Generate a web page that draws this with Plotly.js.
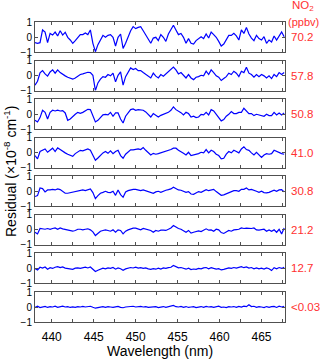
<!DOCTYPE html>
<html>
<head>
<meta charset="utf-8">
<script src="https://cdn.plot.ly/plotly-3.0.1.min.js"></script>
<style>
  html, body { margin: 0; padding: 0; background: #fff; }
  #chart { width: 320px; height: 360px; }
</style>
</head>
<body>
<div id="chart"></div>
<script>
// Residual spectra, one panel per NO2 concentration

const wavelength = [
  438.0,438.3,438.6,438.9,439.2,439.5,439.8,440.1,440.4,440.7,
  441.0,441.3,441.6,441.9,442.2,442.5,442.8,443.1,443.4,443.7,
  444.0,444.3,444.6,444.9,445.2,445.5,445.8,446.1,446.4,446.7,
  447.0,447.3,447.6,447.9,448.2,448.5,448.8,449.1,449.4,449.7,
  450.0,450.3,450.6,450.9,451.2,451.5,451.8,452.1,452.4,452.7,
  453.0,453.3,453.6,453.9,454.2,454.5,454.8,455.1,455.4,455.7,
  456.0,456.3,456.6,456.9,457.2,457.5,457.8,458.1,458.4,458.7,
  459.0,459.3,459.6,459.9,460.2,460.5,460.8,461.1,461.4,461.7,
  462.0,462.3,462.6,462.9,463.2,463.5,463.8,464.1,464.4,464.7,
  465.0,465.3,465.6,465.9,466.2,466.5,466.8,467.1,467.4,467.7
];

const res702 = [
  -0.38,-0.42,-0.38,0.47,0.33,-0.38,0.24,0.13,0.33,0.07,
  0.42,0.13,0.31,-0.02,-0.2,-0.42,-0.24,-0.07,0.16,0.16,
  0.27,0.16,0.47,-0.42,-0.98,-0.51,-0.16,0.11,-0.02,0.11,
  0.16,-0.02,-0.6,-0.02,0.2,-0.76,-0.42,0.02,0.42,0.69,
  0.56,0.64,0.69,0.42,0.16,-0.16,-0.42,-0.07,-0.02,-0.24,
  0.16,-0.02,-0.29,0.2,0.47,0.78,0.47,0.16,0.24,-0.02,
  -0.42,-0.11,-0.42,-0.47,-0.24,-0.11,0.02,-0.11,0.2,-0.07,
  0.33,0.16,-0.02,-0.29,-0.6,-0.47,-0.16,0.11,0.11,0.24,
  0.07,-0.2,0.47,0.24,0.64,0.2,-0.07,-0.24,0.11,-0.11,
  -0.2,0.02,-0.42,-0.2,-0.33,0.07,-0.2,0.11,0.33,0.02
];

const res578 = [
  -0.64,-0.38,0.18,0.33,0.11,-0.04,0.24,0.38,0.16,0.38,
  0.2,0.07,-0.02,-0.11,-0.2,-0.24,-0.16,-0.02,0.07,0.11,
  0.18,0.22,0.2,0.02,-1.0,-0.49,-0.24,-0.07,-0.11,0.07,
  -0.02,0.16,-0.42,0.02,0.24,-0.64,-0.07,0.18,0.51,0.4,
  0.47,0.33,0.33,0.2,0.07,-0.07,-0.16,0.16,-0.04,-0.16,
  0.07,-0.04,0.11,0.24,0.38,0.56,0.38,0.11,0.2,-0.02,
  -0.16,0.07,-0.16,-0.27,-0.11,-0.07,0.02,-0.02,0.29,0.07,
  0.38,0.2,-0.02,-0.11,-0.33,-0.2,-0.07,0.16,0.07,0.29,
  0.16,-0.07,0.29,0.2,0.56,0.16,0.07,-0.11,0.07,-0.07,
  0.07,-0.02,-0.16,-0.02,-0.2,0.07,-0.07,0.2,0.07,0.2
];

const res508 = [
  -0.41,-0.52,-0.23,0.26,0.12,-0.32,0.12,0.26,0.21,0.26,
  0.21,0.24,0.08,-0.41,-0.32,-0.14,-0.01,0.12,0.06,0.12,
  0.21,0.32,0.3,-0.08,-0.52,-0.41,-0.19,-0.05,-0.01,-0.05,
  0.12,-0.14,0.08,0.08,-0.32,-0.59,-0.14,0.08,0.3,0.35,
  0.26,0.3,0.26,0.26,0.15,-0.01,-0.19,0.04,-0.1,-0.19,
  -0.08,-0.03,0.04,0.12,0.26,0.48,0.3,0.21,0.1,-0.05,
  0.12,0.04,-0.19,-0.14,-0.23,-0.19,-0.01,-0.05,0.12,-0.05,
  0.3,0.21,-0.01,-0.19,-0.45,-0.36,-0.14,-0.01,0.17,0.04,
  0.04,0.12,0.12,0.39,0.21,0.04,0.04,-0.1,-0.01,-0.05,
  -0.1,-0.14,-0.01,-0.1,-0.1,0.12,-0.05,0.08,-0.05,0.08
];

const res410 = [
  -0.19,-0.41,0.08,0.14,0.25,0.03,0.16,0.3,0.08,0.32,
  0.21,0.08,-0.01,-0.1,-0.19,-0.24,-0.06,0.03,0.16,0.12,
  0.16,0.25,0.16,-0.19,-0.5,-0.35,-0.15,-0.01,0.08,-0.04,
  0.12,-0.06,0.08,0.16,-0.19,-0.37,-0.1,0.08,0.19,0.19,
  0.21,0.25,0.21,0.34,0.16,0.03,-0.15,-0.04,-0.1,-0.06,
  -0.01,0.03,0.08,0.12,0.21,0.3,0.3,0.16,0.08,-0.04,
  -0.15,0.03,-0.19,-0.15,-0.06,-0.06,0.03,-0.01,0.21,-0.01,
  0.16,0.08,-0.1,-0.19,-0.41,-0.37,-0.1,0.08,-0.01,0.16,
  0.08,-0.01,0.25,0.39,0.21,0.16,-0.01,-0.15,0.03,-0.15,
  -0.32,-0.15,-0.06,-0.1,-0.06,0.16,0.08,-0.01,-0.06,-0.1
];

const res308 = [
  -0.35,-0.29,0.22,0.18,-0.04,0.09,0.09,0.13,0.09,0.16,
  0.11,0.0,-0.13,-0.13,-0.09,-0.07,0.0,0.04,0.04,0.09,
  0.04,0.09,0.16,-0.09,-0.49,-0.29,-0.13,-0.07,0.0,-0.07,
  -0.09,0.0,-0.27,0.09,-0.22,-0.4,-0.04,0.04,0.09,0.13,
  0.13,0.09,0.04,0.09,0.04,-0.02,-0.07,-0.13,-0.04,0.0,
  -0.07,0.02,0.07,0.11,0.16,0.27,0.18,0.09,0.07,-0.02,
  -0.07,-0.02,-0.18,-0.2,-0.09,-0.02,-0.07,0.04,0.11,0.04,
  0.11,0.13,-0.02,-0.13,-0.27,-0.24,-0.16,-0.07,-0.02,0.04,
  0.04,0.0,0.13,0.13,0.22,0.09,0.13,0.09,0.0,-0.07,
  0.0,-0.09,-0.11,-0.07,0.02,0.07,0.0,0.09,0.11,-0.04
];

const res212 = [
  -0.16,-0.27,0.09,0.07,0.04,0.09,0.04,0.09,0.13,0.04,
  0.13,0.07,0.02,-0.02,-0.04,-0.09,-0.04,0.04,0.04,0.0,
  0.04,0.07,0.0,-0.13,-0.38,-0.22,-0.09,-0.04,0.0,-0.04,
  -0.09,0.0,-0.16,0.0,-0.04,-0.27,-0.09,0.0,0.07,0.11,
  0.11,0.04,0.0,0.09,0.04,-0.02,-0.04,-0.16,-0.04,-0.09,
  -0.02,-0.02,-0.04,0.04,0.13,0.29,0.18,0.09,0.04,-0.04,
  -0.16,-0.04,-0.22,-0.16,-0.09,-0.07,-0.11,-0.04,0.07,-0.02,
  0.0,-0.09,0.04,0.0,-0.18,-0.24,-0.13,-0.04,-0.09,0.0,
  0.02,0.04,0.13,0.09,0.11,0.09,0.09,0.13,0.0,-0.02,
  0.0,0.04,-0.09,0.0,-0.09,0.0,-0.16,0.04,-0.27,0.13
];

const res127 = [
  0.0,-0.1,0.08,0.02,0.1,-0.05,0.05,0.0,0.08,0.12,
  0.05,0.1,0.02,0.0,-0.04,-0.06,0.02,0.04,0.0,0.06,
  0.08,0.03,0.1,-0.05,-0.2,-0.12,-0.04,0.02,-0.03,0.04,
  0.0,0.06,-0.05,0.03,-0.02,-0.12,-0.03,0.02,0.06,0.03,
  0.08,0.02,0.05,0.0,0.04,-0.03,-0.06,-0.02,-0.05,0.02,
  -0.04,0.03,0.0,0.05,0.08,0.2,0.1,0.04,0.06,-0.02,
  -0.05,0.02,-0.08,-0.04,-0.06,0.0,-0.03,0.04,0.06,-0.02,
  0.05,0.0,-0.04,-0.02,-0.1,-0.06,-0.02,0.04,0.0,0.06,
  0.02,0.08,0.12,0.05,0.1,0.02,0.06,-0.02,0.04,-0.03,
  0.02,-0.04,0.03,-0.02,-0.14,0.05,-0.02,0.06,0.0,0.08
];

const res003 = [
  -0.02,0.05,-0.04,0.02,0.04,-0.03,0.02,0.0,0.05,-0.02,
  0.03,0.06,0.0,0.02,-0.03,0.01,-0.02,0.03,0.0,0.04,
  0.0,0.03,0.05,-0.02,-0.08,-0.04,0.0,0.03,-0.02,0.02,
  0.0,-0.03,0.01,0.04,-0.02,-0.05,0.0,0.03,0.02,0.05,
  0.0,0.02,0.04,0.0,0.03,-0.02,0.0,-0.03,0.02,-0.04,
  0.0,0.03,-0.02,0.02,0.05,0.1,0.02,0.0,0.04,-0.02,
  0.03,-0.03,0.0,0.02,-0.04,0.0,0.03,-0.02,0.04,0.0,
  0.02,-0.03,0.01,0.05,-0.02,0.0,-0.04,0.02,0.0,0.03,
  -0.02,0.04,0.0,0.06,0.02,0.15,0.03,0.05,-0.02,0.02,
  0.0,-0.04,0.03,-0.02,0.02,0.04,-0.03,0.05,0.0,0.04
];

const series = [res702, res578, res508, res410, res308, res212, res127, res003];
const concLabels = ['70.2', '57.8', '50.8', '41.0', '30.8', '21.2', '12.7', '<0.03'];

const yTicks = [-1, 0, 1];
const xRange = [438, 467.8];

const RED = '#ff3030';
const FRAME = '#505050';
const FONT = 'Liberation Sans, Arial, sans-serif';

// panel geometry (fraction of plot height)
const panelH = 0.1;
const gapH = (1 - 8 * panelH) / 7;

function init() {
    const traces = [];
    const layout = {
        width: 320,
        height: 360,
        margin: { t: 22, r: 35, b: 38, l: 35 },
        paper_bgcolor: '#fff',
        plot_bgcolor: '#fff',
        showlegend: false,
        font: { family: FONT, size: 11, color: '#000' },
        annotations: []
    };

    series.forEach((vals, k) => {
        const n = k + 1;
        const xa = n === 1 ? 'x' : 'x' + n;
        const ya = n === 1 ? 'y' : 'y' + n;
        traces.push({
            x: wavelength,
            y: vals,
            xaxis: xa,
            yaxis: ya,
            mode: 'lines',
            line: { color: '#0000ff', width: 1.2 },
            hoverinfo: 'x+y'
        });

        const top = 1 - k * (panelH + gapH);
        const isBottom = n === series.length;

        layout['xaxis' + (n === 1 ? '' : n)] = {
            anchor: ya,
            range: xRange,
            tick0: 440,
            dtick: 5,
            ticks: 'inside',
            ticklen: 3,
            tickcolor: FRAME,
            minor: { dtick: 2.5, tick0: 440, ticks: 'inside', ticklen: 3, tickcolor: FRAME },
            showline: true,
            linecolor: FRAME,
            linewidth: 1,
            mirror: 'allticks',
            showgrid: false,
            zeroline: false,
            showticklabels: isBottom,
            ticklabelstandoff: 4,
            tickfont: { size: 12 }
        };

        layout['yaxis' + (n === 1 ? '' : n)] = {
            anchor: xa,
            domain: [top - panelH, top],
            range: [-1, 1],
            tickvals: yTicks,
            ticks: 'inside',
            ticklen: 3,
            tickcolor: FRAME,
            showline: true,
            linecolor: FRAME,
            linewidth: 1,
            mirror: 'allticks',
            showgrid: false,
            zeroline: false,
            tickfont: { size: 10 }
        };

        layout.annotations.push({
            text: concLabels[k],
            xref: 'paper',
            yref: ya + ' domain',
            x: 1.016,
            y: 0.5,
            xanchor: 'left',
            yanchor: 'middle',
            showarrow: false,
            font: { color: RED, size: 11.5 }
        });
    });

    // header for the concentration column
    layout.annotations.push({
        text: 'NO<sub>2</sub>',
        xref: 'paper', yref: 'paper',
        x: 1.072, y: 1.055,
        xanchor: 'center', yanchor: 'middle',
        showarrow: false,
        font: { color: RED, size: 11.5 }
    });
    layout.annotations.push({
        text: '(ppbv)',
        xref: 'paper', yref: 'paper',
        x: 1.072, y: 1.0,
        xanchor: 'center', yanchor: 'middle',
        showarrow: false,
        font: { color: RED, size: 11 }
    });

    // shared axis titles
    layout.annotations.push({
        text: 'Wavelength (nm)',
        xref: 'paper', yref: 'paper',
        x: 0.5, y: -0.097,
        xanchor: 'center', yanchor: 'middle',
        showarrow: false,
        font: { size: 14, color: '#000' }
    });
    layout.annotations.push({
        text: 'Residual (×10<sup>-8</sup> cm<sup>-1</sup>)',
        xref: 'paper', yref: 'paper',
        x: -0.1, y: 0.5,
        xanchor: 'center', yanchor: 'middle',
        textangle: -90,
        showarrow: false,
        font: { size: 14, color: '#000' }
    });

    Plotly.newPlot('chart', traces, layout, { displayModeBar: false, staticPlot: true });
}

document.addEventListener('DOMContentLoaded', init);
</script>
</body>
</html>
